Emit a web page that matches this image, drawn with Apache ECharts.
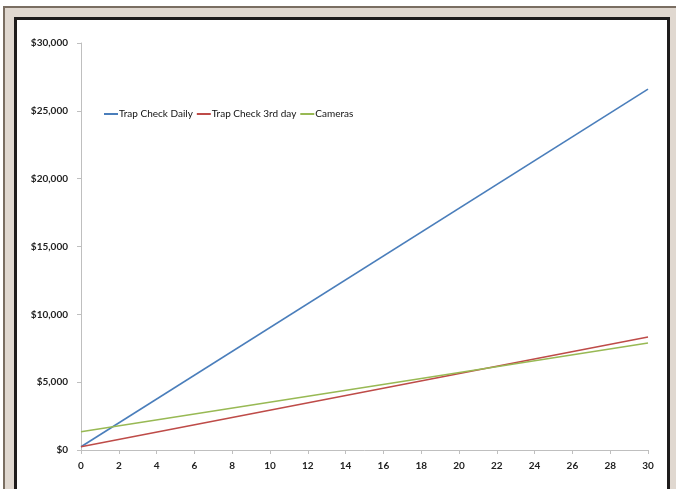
<!DOCTYPE html>
<html>
<head>
<meta charset="utf-8">
<script src="https://cdn.jsdelivr.net/npm/echarts@6/dist/echarts.min.js"></script>
<style>
  html, body { margin: 0; padding: 0; width: 676px; height: 489px; background: #fff; overflow: hidden; }
  #frame { position: absolute; left: 3px; top: 6px; width: 690px; height: 500px; background: #e0d8d0; border-top: 2px solid #7a6e62; border-left: 2px solid #7a6e62; }
  #inner { position: absolute; left: 14px; top: 17px; width: 650px; height: 480px; background: #fff; border: 3px solid #1e1c1c; }
  #chart { position: absolute; left: 0; top: 0; width: 676px; height: 489px; }
</style>
</head>
<body>
<div id="frame"></div>
<div id="inner"></div>
<div id="chart"></div>
<script>
const days = [0, 30];
const trapDaily = [240, 26600];
const trap3rd = [240, 8330];
const cameras = [1350, 7890];
const seriesNames = ['Trap Check Daily', 'Trap Check 3rd day', 'Cameras'];
const colors = ['#4a7ebb', '#be4b48', '#98b954'];

function pairs(vals) { return days.map((d, i) => [d, vals[i]]); }

const chart = echarts.init(document.getElementById('chart'), null, { renderer: 'canvas' });
const font = 'Lato, "Open Sans", sans-serif';
chart.setOption({
  backgroundColor: 'transparent',
  animation: false,
  color: colors,
  grid: { left: 81, right: 28, top: 43, bottom: 39, containLabel: false },
  legend: {
    left: 99, top: 104,
    icon: 'rect', itemWidth: 14, itemHeight: 2, itemGap: 4,
    textStyle: { fontFamily: font, fontSize: 10, color: '#111', padding: [0, 0, 0, -4] },
    data: seriesNames
  },
  xAxis: {
    type: 'value', min: 0, max: 30, interval: 2,
    axisLine: { lineStyle: { color: '#bfbfbf', width: 1 } },
    axisTick: { show: true, length: 4, lineStyle: { color: '#bfbfbf' } },
    axisLabel: { fontFamily: font, fontSize: 10, color: '#222', margin: 11, fontWeight: 'bold' },
    splitLine: { show: false }
  },
  yAxis: {
    type: 'value', min: 0, max: 30000, interval: 5000,
    axisLine: { show: true, lineStyle: { color: '#bfbfbf', width: 1 } },
    axisTick: { show: true, length: 4, lineStyle: { color: '#bfbfbf' } },
    axisLabel: { fontFamily: font, fontSize: 10, color: '#222', margin: 13, fontWeight: 'bold',
      formatter: v => '$' + v.toLocaleString('en-US') },
    splitLine: { show: false }
  },
  series: [
    { name: seriesNames[0], type: 'line', data: pairs(trapDaily), symbol: 'none', lineStyle: { width: 1.6 } },
    { name: seriesNames[1], type: 'line', data: pairs(trap3rd), symbol: 'none', lineStyle: { width: 1.6 } },
    { name: seriesNames[2], type: 'line', data: pairs(cameras), symbol: 'none', lineStyle: { width: 1.6 } }
  ]
});
</script>
</body>
</html>
